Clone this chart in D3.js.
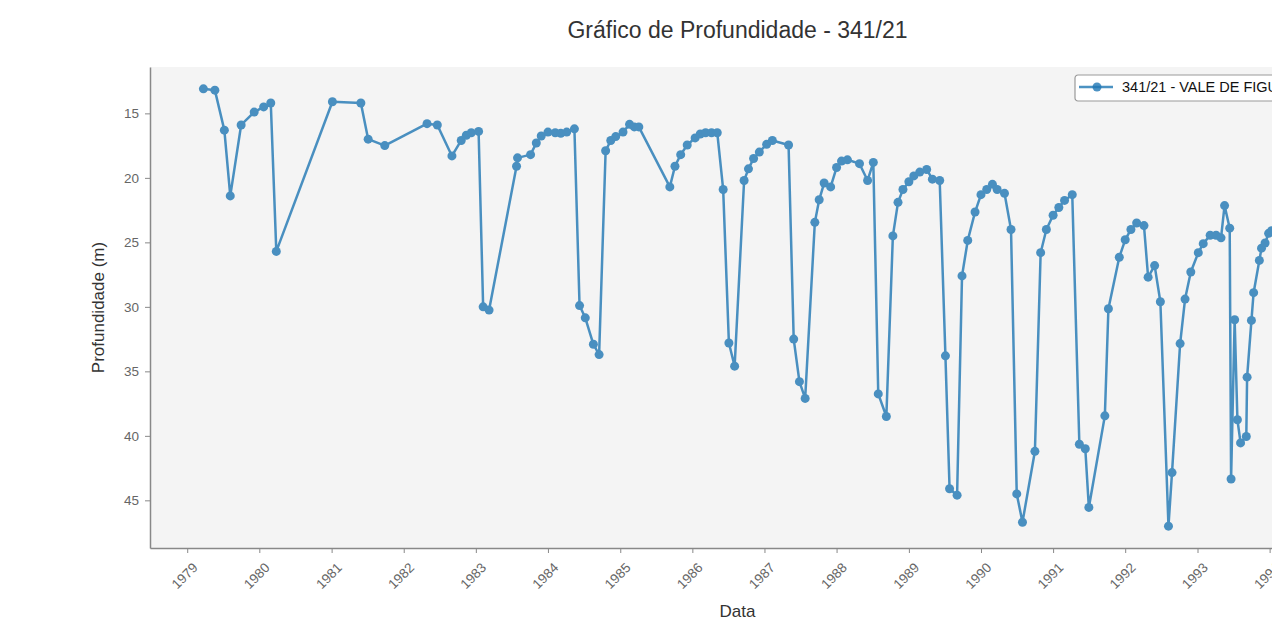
<!DOCTYPE html>
<html>
<head>
<meta charset="utf-8">
<script src="https://cdn.jsdelivr.net/npm/d3@7"></script>
<style>
  body { margin: 0; overflow: hidden; background: #fff; }
  svg text { font-family: "Liberation Sans", Arial, sans-serif; }
</style>
</head>
<body>
<svg id="chart"></svg>
<script>
// leituras do poço 341/21 (data, profundidade em m)
var dates = [
  "1979-03-24","1979-05-21","1979-07-08","1979-08-07","1979-10-01","1979-12-06",
  "1980-01-23","1980-02-28","1980-03-27",
  "1981-01-05","1981-05-29","1981-07-05","1981-09-27",
  "1982-04-29","1982-06-20","1982-09-02","1982-10-19","1982-11-14","1982-12-09",
  "1983-01-15","1983-02-07","1983-03-09","1983-07-26","1983-07-31","1983-10-05","1983-11-03","1983-11-28",
  "1984-01-01","1984-02-07","1984-03-06","1984-04-05","1984-05-14","1984-06-09","1984-07-08","1984-08-18","1984-09-16","1984-10-19","1984-11-14","1984-12-09",
  "1985-01-15","1985-02-17","1985-03-13","1985-04-05","1985-09-09","1985-10-05","1985-11-03","1985-12-06",
  "1986-01-15","1986-02-10","1986-03-09","1986-04-08","1986-05-07","1986-06-06","1986-07-05","1986-08-03","1986-09-20","1986-10-12","1986-11-07","1986-12-06",
  "1987-01-12","1987-02-10","1987-05-03","1987-05-29","1987-06-27","1987-07-26","1987-09-13","1987-10-05","1987-10-30","1987-12-02",
  "1988-01-01","1988-01-26","1988-02-25","1988-04-26","1988-06-06","1988-07-05","1988-07-30","1988-09-09","1988-10-12","1988-11-07","1988-12-02",
  "1989-01-01","1989-01-26","1989-02-25","1989-04-01","1989-04-30","1989-06-06","1989-07-05","1989-07-26","1989-09-02","1989-09-27","1989-10-26","1989-12-02",
  "1990-01-01","1990-01-30","1990-02-28","1990-03-24","1990-04-30","1990-06-02","1990-07-01","1990-07-30","1990-10-01","1990-10-30","1990-11-28",
  "1991-01-01","1991-01-30","1991-02-28","1991-04-08","1991-05-14","1991-06-13","1991-07-01","1991-09-20","1991-10-08","1991-12-02",
  "1992-01-01","1992-01-30","1992-02-28","1992-04-05","1992-04-26","1992-05-29","1992-06-27","1992-08-07","1992-08-25","1992-10-05","1992-10-30","1992-11-28",
  "1993-01-05","1993-01-30","1993-03-06","1993-04-05","1993-04-30","1993-05-18","1993-06-13","1993-06-20","1993-07-08","1993-07-22","1993-08-07","1993-09-05","1993-09-09","1993-10-01","1993-10-12","1993-11-10","1993-11-21","1993-12-09","1993-12-27",
  "1994-01-11"
];
var depths = [
  13.1,13.2,16.3,21.4,15.9,14.9,
  14.5,14.2,25.7,
  14.1,14.2,17.0,17.5,
  15.8,15.9,18.3,17.1,16.7,16.5,
  16.4,30.0,30.25,19.1,18.45,18.2,17.3,16.75,
  16.45,16.5,16.55,16.45,16.2,29.9,30.85,32.9,33.7,17.9,17.1,16.8,
  16.45,15.85,16.05,16.05,20.7,19.1,18.2,17.45,
  16.9,16.6,16.5,16.5,16.5,20.9,32.8,34.6,20.2,19.3,18.5,18.0,
  17.4,17.1,17.45,32.5,35.8,37.1,23.45,21.7,20.4,20.7,
  19.2,18.7,18.6,18.9,20.2,18.8,36.75,38.5,24.5,21.9,20.9,
  20.3,19.85,19.55,19.35,20.1,20.2,33.8,44.1,44.6,27.6,24.85,22.65,
  21.3,20.9,20.5,20.9,21.2,24.0,44.5,46.7,41.2,25.8,24.0,
  22.9,22.3,21.75,21.3,40.65,41.0,45.55,38.45,30.15,26.15,
  24.8,24.0,23.5,23.7,27.7,26.8,29.6,47.0,42.85,32.85,29.4,27.3,
  25.8,25.1,24.45,24.45,24.65,22.15,23.9,43.35,31.0,38.75,40.55,40.05,35.45,31.05,28.9,26.4,25.45,25.05,24.3,
  24.1
];
var seriesName = "341/21 - VALE DE FIGUEIRA";
var chartTitle = "Gráfico de Profundidade - 341/21";
var xLabel = "Data";
var yLabel = "Profundidade (m)";
var yTicks = [15, 20, 25, 30, 35, 40, 45];

var parse = d3.timeParse("%Y-%m-%d");
var data = dates.map(function (d, i) { return { date: parse(d), depth: depths[i] }; });

var width = 1420, height = 621;
var mLeft = 150, mRight = 1325, mTop = 67, mBottom = 548;

var svg = d3.select("#chart").attr("width", width).attr("height", height);

// margens de 5% como no matplotlib
var xExt = d3.extent(data, function (d) { return +d.date; });
var xPad = (xExt[1] - xExt[0]) * 0.05;
var x = d3.scaleTime()
    .domain([new Date(xExt[0] - xPad), new Date(xExt[1] + xPad)])
    .range([mLeft, mRight]);

var yExt = d3.extent(data, function (d) { return d.depth; });
var yPad = (yExt[1] - yExt[0]) * 0.05;
var y = d3.scaleLinear()
    .domain([yExt[0] - yPad, yExt[1] + yPad])
    .range([mTop, mBottom]);   // eixo invertido: profundidade cresce para baixo

svg.append("rect")
    .attr("x", mLeft).attr("y", mTop)
    .attr("width", mRight - mLeft).attr("height", mBottom - mTop)
    .attr("fill", "#f4f4f4");

// eixo x
var xAxis = svg.append("g")
    .attr("transform", "translate(0," + mBottom + ")")
    .call(d3.axisBottom(x).ticks(d3.timeYear.every(1)).tickFormat(d3.timeFormat("%Y"))
        .tickSize(5).tickSizeOuter(0).tickPadding(0));
xAxis.select(".domain").attr("stroke", "#888").attr("stroke-width", 1.5);
xAxis.selectAll(".tick line").attr("stroke", "#888").attr("stroke-width", 1);
xAxis.selectAll(".tick text")
    .attr("fill", "#666").attr("font-size", 13.5)
    .attr("text-anchor", "middle")
    .attr("dy", null).attr("y", null)
    .attr("transform", "translate(-3,28) rotate(-45)")
    .attr("dominant-baseline", "central");

// eixo y
var yAxis = svg.append("g")
    .attr("transform", "translate(" + mLeft + ",0)")
    .call(d3.axisLeft(y).tickValues(yTicks).tickSize(5).tickSizeOuter(0).tickPadding(6));
yAxis.select(".domain").attr("stroke", "#888").attr("stroke-width", 1.5);
yAxis.selectAll(".tick line").attr("stroke", "#888").attr("stroke-width", 1);
yAxis.selectAll(".tick text").attr("fill", "#666").attr("font-size", 13.5);

// linha + marcadores
var plot = svg.append("g").attr("opacity", 0.8);
plot.append("path")
    .datum(data)
    .attr("fill", "none")
    .attr("stroke", "#1f77b4")
    .attr("stroke-width", 2.5)
    .attr("stroke-linejoin", "round")
    .attr("d", d3.line().x(function (d) { return x(d.date); }).y(function (d) { return y(d.depth); }));
plot.selectAll("circle")
    .data(data)
    .enter().append("circle")
    .attr("cx", function (d) { return x(d.date); })
    .attr("cy", function (d) { return y(d.depth); })
    .attr("r", 4.5)
    .attr("fill", "#1f77b4");

// textos
svg.append("text")
    .attr("x", (mLeft + mRight) / 2).attr("y", 38)
    .attr("text-anchor", "middle").attr("font-size", 23).attr("fill", "#333")
    .text(chartTitle);
svg.append("text")
    .attr("x", (mLeft + mRight) / 2).attr("y", 617)
    .attr("text-anchor", "middle").attr("font-size", 17).attr("fill", "#333")
    .text(xLabel);
svg.append("text")
    .attr("transform", "translate(104," + ((mTop + mBottom) / 2) + ") rotate(-90)")
    .attr("text-anchor", "middle").attr("font-size", 17).attr("fill", "#333")
    .text(yLabel);

// legenda
var leg = svg.append("g").attr("transform", "translate(1075,75)");
var legBox = leg.append("rect")
    .attr("height", 26).attr("rx", 3)
    .attr("fill", "#fff").attr("stroke", "#999").attr("stroke-width", 1.2);
leg.append("line").attr("x1", 4).attr("x2", 38).attr("y1", 12).attr("y2", 12)
    .attr("stroke", "#1f77b4").attr("stroke-width", 2.5).attr("opacity", 0.8);
leg.append("circle").attr("cx", 22).attr("cy", 12).attr("r", 4.5)
    .attr("fill", "#1f77b4").attr("opacity", 0.8);
var legText = leg.append("text").attr("x", 47).attr("y", 17)
    .attr("font-size", 14.5).attr("fill", "#111").text(seriesName);
legBox.attr("width", 47 + legText.node().getComputedTextLength() + 10);
</script>
</body>
</html>
